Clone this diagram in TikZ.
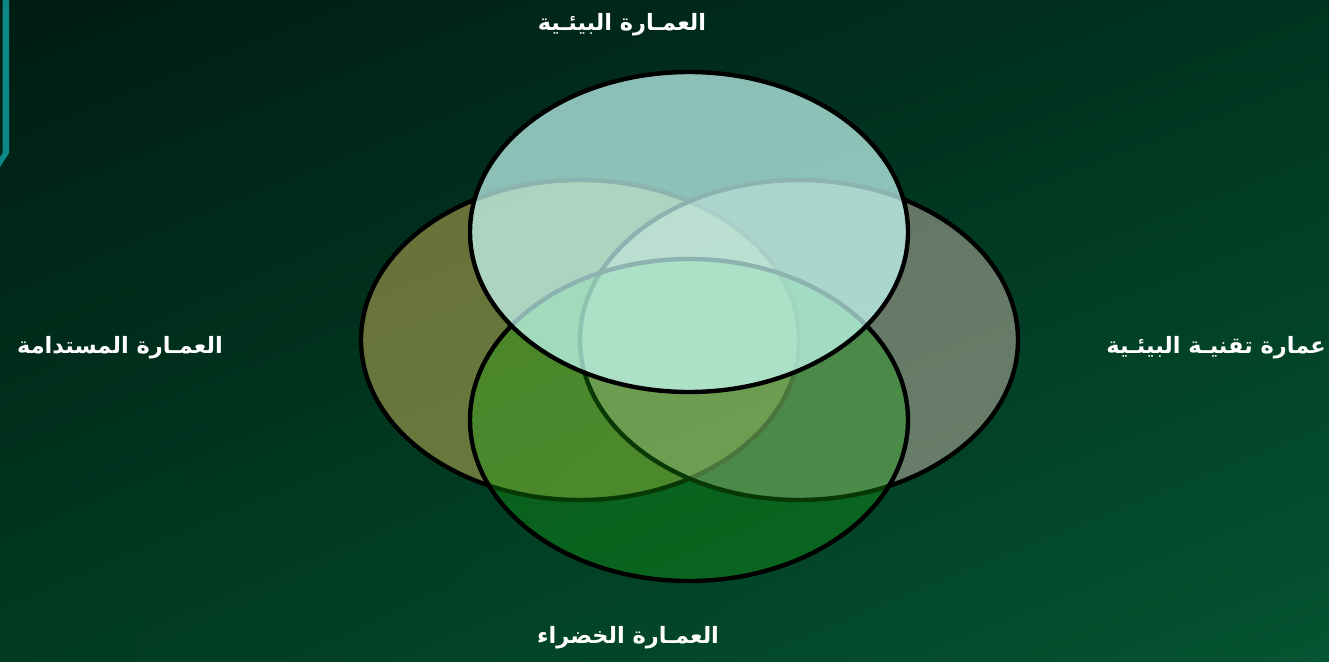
\documentclass[tikz,border=0pt]{standalone}
\usepackage{fontspec}
\usetikzlibrary{shadings}
\newfontfamily\arabicfont[Script=Arabic]{DejaVu Sans}
\TeXXeTstate=1
\definecolor{bgTL}{RGB}{0,28,18}
\definecolor{bgTR}{RGB}{0,52,32}
\definecolor{bgBL}{RGB}{0,58,34}
\definecolor{bgBR}{RGB}{5,84,50}
\definecolor{tealbar}{RGB}{12,136,136}
\definecolor{leftfill}{RGB}{208,183,86}
\definecolor{rightfill}{RGB}{204,184,170}
\definecolor{bottomfill}{RGB}{23,165,15}
\definecolor{topfill}{RGB}{200,255,250}
\tikzset{
  venn/.style={draw=black, line width=4.4pt},
  lbl/.style={text=white, font=\arabicfont\bfseries\fontsize{22.5}{26}\selectfont, inner sep=0pt}
}
\begin{document}
\begin{tikzpicture}[x=1pt,y=-1pt]
\useasboundingbox (0,0) rectangle (1329,661);
\shade[upper left=bgTL, upper right=bgTR, lower left=bgBL, lower right=bgBR] (0,0) rectangle (1329,661);
\fill[tealbar] (2.5,0) -- (9,0) -- (9,153) -- (0,167) -- (0,157) -- (2.5,153) -- cycle;
% ellipses
\path[venn, fill=leftfill, fill opacity=0.5] (580,340) ellipse [x radius=219, y radius=160];
\path[venn, fill=rightfill, fill opacity=0.5] (799,340) ellipse [x radius=219, y radius=160];
\path[venn, fill=bottomfill, fill opacity=0.35] (689,420) ellipse [x radius=219, y radius=161];
\path[venn, fill=topfill, fill opacity=0.7] (689,232) ellipse [x radius=219, y radius=160];
% labels
\node[lbl] (top) at (622,25) {\beginR العمـارة البيئـية\endR};
\node[lbl] (left) at (120,348) {\beginR العمـارة المستدامة\endR};
\node[lbl, anchor=east] (right) at (1326,348) {\beginR عمارة تقنيـة البيئـية\endR};
\node[lbl] (bottom) at (628,638) {\beginR العمـارة الخضراء\endR};
\end{tikzpicture}
\end{document}
